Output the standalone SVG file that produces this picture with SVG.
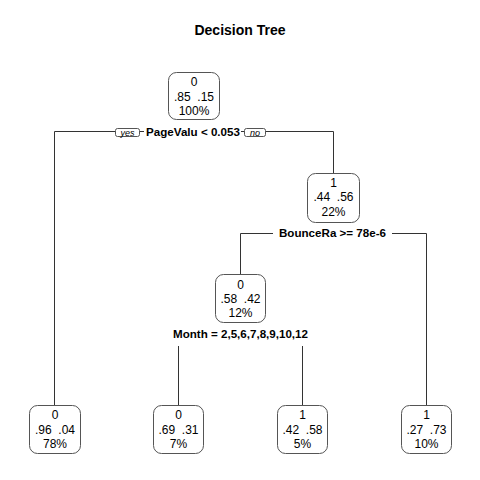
<svg xmlns="http://www.w3.org/2000/svg" width="480" height="480" viewBox="0 0 480 480">
<style>
.bg{fill:#fff}
.box{fill:#fff;stroke:#555;stroke-width:1}
.t{font-family:"Liberation Sans",Arial,sans-serif;font-size:12px;fill:#000;text-anchor:middle;white-space:pre}
.s{font-family:"Liberation Sans",Arial,sans-serif;font-size:11.6px;font-weight:bold;fill:#000;text-anchor:middle}
.yn{font-family:"Liberation Sans",Arial,sans-serif;font-size:9px;font-style:italic;fill:#000;text-anchor:middle}
.title{font-family:"Liberation Sans",Arial,sans-serif;font-size:14px;font-weight:bold;fill:#000;text-anchor:middle}
.c{fill:none;stroke:#333;stroke-width:1}
</style>
<rect class="bg" width="480" height="480"/>
<text class="title" x="240" y="35">Decision Tree</text>
<g id="connectors">
<path class="c" d="M54.5,405 V131.5 H115 M140,131.5 H144 M241,131.5 H244 M266,131.5 H333.5 V173"/>
<path class="c" d="M240.5,274 V233.5 H273 M392,233.5 H426.5 V405"/>
<path class="c" d="M178.5,405 V346 M302.5,405 V346"/>
</g>
<g id="split1">
<text class="s" x="193" y="135.5">PageValu &lt; 0.053</text>
<rect class="box" x="115.5" y="128.5" width="24" height="8" rx="2"/>
<text class="yn" x="127.5" y="135.5">yes</text>
<rect class="box" x="244.5" y="128.5" width="21" height="8" rx="2"/>
<text class="yn" x="255" y="135.5">no</text>
</g>
<g id="split2"><text class="s" x="332.5" y="237">BounceRa &gt;= 78e-6</text></g>
<g id="split3"><text class="s" x="240.5" y="338">Month = 2,5,6,7,8,9,10,12</text></g>
<g id="node1">
<rect class="box" x="168.5" y="72.5" width="51" height="47" rx="8"/>
<text class="t" x="194" y="86">0</text>
<text class="t" x="194" y="100.5" xml:space="preserve">.85  .15</text>
<text class="t" x="194" y="115">100%</text>
</g>
<g id="node2">
<rect class="box" x="307.5" y="173.5" width="52" height="49" rx="8"/>
<text class="t" x="333.5" y="186.5">1</text>
<text class="t" x="333.5" y="201" xml:space="preserve">.44  .56</text>
<text class="t" x="333.5" y="215.5">22%</text>
</g>
<g id="node3">
<rect class="box" x="215.5" y="274.5" width="50" height="48" rx="8"/>
<text class="t" x="240.5" y="288.5">0</text>
<text class="t" x="240.5" y="302.5" xml:space="preserve">.58  .42</text>
<text class="t" x="240.5" y="317">12%</text>
</g>
<g id="leaf1">
<rect class="box" x="29.5" y="405.5" width="51" height="48" rx="8"/>
<text class="t" x="55" y="419">0</text>
<text class="t" x="55" y="433.5" xml:space="preserve">.96  .04</text>
<text class="t" x="55" y="448">78%</text>
</g>
<g id="leaf2">
<rect class="box" x="153.5" y="405.5" width="50" height="48" rx="8"/>
<text class="t" x="178.5" y="419">0</text>
<text class="t" x="178.5" y="433.5" xml:space="preserve">.69  .31</text>
<text class="t" x="178.5" y="448">7%</text>
</g>
<g id="leaf3">
<rect class="box" x="277.5" y="405.5" width="50" height="48" rx="8"/>
<text class="t" x="302.5" y="419">1</text>
<text class="t" x="302.5" y="433.5" xml:space="preserve">.42  .58</text>
<text class="t" x="302.5" y="448">5%</text>
</g>
<g id="leaf4">
<rect class="box" x="401.5" y="405.5" width="50" height="48" rx="8"/>
<text class="t" x="426.5" y="419">1</text>
<text class="t" x="426.5" y="433.5" xml:space="preserve">.27  .73</text>
<text class="t" x="426.5" y="448">10%</text>
</g>
</svg>
